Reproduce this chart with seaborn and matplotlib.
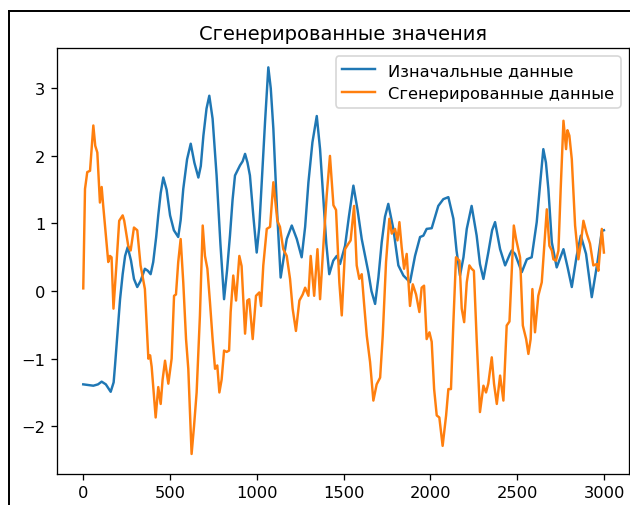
import matplotlib
matplotlib.use("Agg")
import matplotlib.pyplot as plt
import seaborn as sns
from matplotlib.lines import Line2D

title = "Сгенерированные значения"
label_orig = "Изначальные данные"
label_gen = "Сгенерированные данные"

# исходный ряд (синий)
orig_x = [0, 30, 58, 85, 106, 130, 158, 175, 183, 198, 212, 227, 241, 256, 275, 292, 311, 330,
          355, 372, 388, 403, 420, 432, 446, 461, 480, 500, 522, 547, 561, 576, 598, 619, 640,
          663, 677, 692, 710, 726, 745, 768, 790, 811, 828, 845, 860, 874, 903, 918, 932, 946,
          960, 980, 999, 1014, 1028, 1047, 1066, 1080, 1095, 1116, 1137, 1155, 1172, 1201,
          1230, 1258, 1278, 1297, 1320, 1345, 1364, 1383, 1400, 1417, 1440, 1460, 1479, 1508,
          1530, 1556, 1580, 1604, 1642, 1660, 1681, 1700, 1719, 1738, 1757, 1786, 1815, 1844,
          1882, 1911, 1940, 1959, 1978, 2007, 2045, 2074, 2103, 2132, 2150, 2170, 2190, 2209,
          2237, 2266, 2285, 2305, 2333, 2355, 2372, 2401, 2430, 2458, 2468, 2487, 2526, 2555,
          2583, 2612, 2632, 2650, 2665, 2679, 2699, 2727, 2766, 2790, 2814, 2842, 2866, 2896,
          2929, 2962, 2987, 2999]
orig_y = [-1.38, -1.39, -1.40, -1.38, -1.34, -1.38, -1.49, -1.35, -1.10, -0.60, -0.12, 0.25,
          0.52, 0.65, 0.45, 0.18, 0.06, 0.15, 0.33, 0.30, 0.25, 0.43, 0.80, 1.12, 1.45, 1.68,
          1.50, 1.12, 0.90, 0.80, 1.05, 1.51, 1.95, 2.18, 1.90, 1.68, 1.85, 2.30, 2.70, 2.89,
          2.55, 1.71, 0.70, -0.12, 0.30, 0.82, 1.35, 1.71, 1.86, 1.92, 2.03, 1.90, 1.71, 1.10,
          0.57, 0.95, 1.61, 2.50, 3.31, 3.00, 2.40, 1.20, 0.20, 0.50, 0.77, 0.97, 0.77, 0.50,
          0.95, 1.61, 2.20, 2.59, 2.10, 1.36, 0.70, 0.25, 0.45, 0.52, 0.40, 0.67, 1.10, 1.56,
          1.20, 0.77, 0.28, 0.00, -0.19, 0.20, 0.72, 1.10, 1.29, 0.92, 0.38, 0.23, 0.13, 0.52,
          0.80, 0.82, 0.92, 0.93, 1.26, 1.36, 1.39, 1.07, 0.60, 0.23, 0.50, 0.92, 1.26, 0.82,
          0.40, 0.18, 0.57, 0.90, 1.02, 0.62, 0.38, 0.55, 0.60, 0.55, 0.28, 0.47, 0.50, 1.02,
          1.60, 2.10, 1.90, 1.51, 0.72, 0.35, 0.62, 0.35, 0.06, 0.52, 0.82, 0.55, -0.09, 0.43,
          0.89, 0.90]

# сгенерированный ряд (оранжевый)
gen_x = [0, 10, 23, 39, 58, 69, 81, 96, 106, 115, 144, 154, 163, 174, 192, 207, 227, 236, 259,
         273, 292, 311, 330, 355, 375, 385, 394, 417, 432, 446, 457, 471, 490, 509, 523, 534,
         547, 561, 576, 592, 605, 624, 638, 653, 672, 688, 701, 715, 730, 745, 759, 772, 784,
         797, 811, 826, 840, 849, 864, 880, 899, 912, 932, 945, 956, 976, 995, 1014, 1024,
         1037, 1057, 1076, 1095, 1118, 1133, 1152, 1172, 1191, 1206, 1225, 1245, 1264, 1278,
         1297, 1310, 1330, 1349, 1364, 1383, 1402, 1421, 1441, 1456, 1475, 1489, 1508, 1527,
         1540, 1560, 1575, 1590, 1604, 1617, 1633, 1652, 1671, 1690, 1710, 1725, 1744, 1763,
         1777, 1796, 1810, 1821, 1834, 1848, 1863, 1882, 1898, 1917, 1936, 1949, 1963, 1978,
         1994, 2007, 2021, 2036, 2051, 2070, 2090, 2103, 2118, 2132, 2147, 2167, 2180, 2194,
         2209, 2224, 2237, 2250, 2266, 2285, 2305, 2320, 2333, 2353, 2366, 2382, 2401, 2420,
         2439, 2455, 2480, 2493, 2516, 2532, 2551, 2564, 2577, 2587, 2602, 2621, 2641, 2654,
         2670, 2685, 2699, 2708, 2723, 2737, 2750, 2766, 2781, 2789, 2800, 2814, 2833, 2852,
         2866, 2881, 2900, 2919, 2938, 2958, 2967, 2987, 2999]
gen_y = [0.04, 1.51, 1.76, 1.78, 2.45, 2.15, 2.05, 1.31, 1.54, 1.26, 0.43, 0.52, 0.50, -0.26,
         0.43, 1.04, 1.12, 1.04, 0.67, 0.60, 0.94, 0.90, 0.38, 0.03, -1.00, -0.95, -1.12, -1.87,
         -1.42, -1.67, -1.31, -1.03, -1.37, -1.00, -0.07, -0.05, 0.43, 0.77, 0.13, -0.71, -1.15,
         -2.41, -2.00, -1.50, -0.36, 0.97, 0.52, 0.33, -0.17, -0.71, -1.15, -1.10, -1.50, -1.31,
         -0.88, -0.90, -0.88, -0.31, 0.23, -0.14, 0.52, 0.37, -0.63, -0.14, -0.12, -0.71, -0.07,
         -0.02, -0.22, 0.38, 0.92, 0.95, 1.61, 1.04, 0.95, 0.62, 0.52, 0.18, -0.26, -0.59,
         -0.14, -0.05, 0.05, -0.07, 0.52, -0.07, 0.62, -0.12, 0.67, 1.41, 2.00, 1.27, 1.20,
         0.13, -0.36, 0.62, 0.70, 0.75, 1.26, 0.38, 0.18, 0.25, -0.17, -0.66, -1.05, -1.62,
         -1.38, -1.28, -0.66, 0.43, 1.07, 0.85, 0.92, 0.75, 1.02, 0.65, 0.33, 0.55, -0.22,
         0.10, -0.05, -0.31, 0.05, 0.08, -0.71, -0.61, -0.75, -1.45, -1.84, -1.87, -2.29,
         -1.84, -1.45, -1.45, -0.46, 0.50, 0.45, -0.26, -0.46, 0.13, 0.38, 0.33, 0.30, -0.71,
         -1.79, -1.40, -1.50, -1.37, -0.98, -1.37, -1.67, -1.25, -1.62, -0.51, -0.45, 0.97,
         0.77, 0.50, -0.51, -0.71, -0.93, -0.71, 0.03, -0.61, -0.07, 0.13, 0.62, 1.21, 0.67,
         0.60, 0.47, 0.45, 0.60, 1.51, 2.52, 2.10, 2.38, 2.30, 1.95, 0.97, 0.47, 0.70, 1.04,
         0.85, 0.70, 0.38, 0.40, 0.30, 0.92, 0.57]

DPI = 117
fig = plt.figure(figsize=(630 / DPI, 506 / DPI), dpi=DPI)
ax = fig.add_axes([0.090, 0.0613, 0.908, 0.8413])

sns.lineplot(x=orig_x, y=orig_y, ax=ax, color="#1f77b4", linewidth=1.5, label=label_orig)
sns.lineplot(x=gen_x, y=gen_y, ax=ax, color="#ff7f0e", linewidth=1.5, label=label_gen)

ax.set_xlim(-153, 3142)
ax.set_ylim(-2.706, 3.592)
ax.set_xticks([0, 500, 1000, 1500, 2000, 2500, 3000])
ax.set_yticks([-2, -1, 0, 1, 2, 3])
ax.set_title(title, fontsize=12)
ax.legend(loc="upper right", fontsize=10)

# рамка скриншота
fig.add_artist(Line2D([0.0143, 0.0143], [0, 0.977], transform=fig.transFigure, color="black", lw=1.2))
fig.add_artist(Line2D([0.0143, 1], [0.977, 0.977], transform=fig.transFigure, color="black", lw=1.2))

fig.savefig("out.png", dpi=DPI)
